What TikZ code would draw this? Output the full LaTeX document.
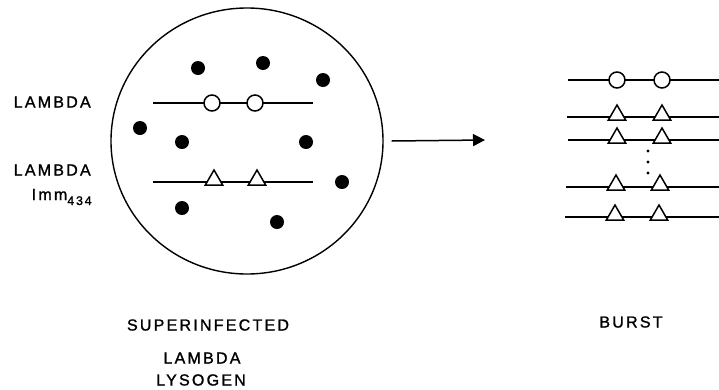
\documentclass[tikz,border=0pt]{standalone}
\usepackage{fontspec}
\setmainfont{Liberation Sans}[LetterSpace=14,FakeBold=1.3]
\usepackage{tikz}
\usetikzlibrary{arrows.meta,shapes.geometric,positioning}

\begin{document}
\begin{tikzpicture}[x=1pt,y=-1pt,line width=1.5pt,
  dot/.style={circle,fill=black,inner sep=0pt,minimum size=14pt},
  opencirc/.style={circle,draw,fill=white,inner sep=0pt,minimum size=16pt},
  tri/.style={regular polygon,regular polygon sides=3,draw,fill=white,inner sep=0pt,minimum size=20pt,yshift=2pt},
  lbl/.style={inner sep=0pt,font=\fontsize{16}{18}\selectfont}]
\useasboundingbox (0,0) rectangle (719,389);
\node[draw,ellipse,minimum width=272pt,minimum height=266pt,line width=1.4pt] (cell) at (247,141) {};
\foreach \x/\y [count=\i] in {198/68,263/63,323/80,140/128,182/142,306/142,342/182,182/208,277/222}
  \node[dot] (d\i) at (\x,\y) {};
\coordinate (la) at (153,103);
\coordinate (lb) at (313,103);
\draw (la) -- (lb);
\node[opencirc] (lc1) at (212,103) {};
\node[opencirc] (lc2) at (255,103) {};
\coordinate (ia) at (153,182);
\coordinate (ib) at (313,182);
\draw (ia) -- (ib);
\node[tri] (it1) at (214,182) {};
\node[tri] (it2) at (257,182) {};
\node[lbl,anchor=west] (lam) at (13,102) {LAMBDA};
\node[lbl,anchor=west] (lamimm) at (13,170) {LAMBDA};
\node[lbl,anchor=base west] (imm) at (31,200) {Imm\raisebox{-5pt}{\fontsize{12.5}{14}\selectfont 434}};
\coordinate (burst) at (485,140);
\draw[-{Triangle[length=12pt,width=12pt]}] ([xshift=8pt]cell.east) -- (burst);
\coordinate (r1a) at (568,80);
\coordinate (r1b) at (719,80);
\draw (r1a) -- (r1b);
\node[opencirc] (rc1) at (617,80) {};
\node[opencirc] (rc2) at (662,80) {};
\foreach \n/\y/\xa/\ta/\tb in {2/117/567/617/662,3/140/568/617/662,4/187/566/616/660,5/217/565/615/659}{
  \coordinate (r\n a) at (\xa,\y);
  \coordinate (r\n b) at (719,\y);
  \draw (r\n a) -- (r\n b);
  \node[tri] (rt\n a) at (\ta,\y) {};
  \node[tri] (rt\n b) at (\tb,\y) {};
}
\foreach \y [count=\i] in {151,162,173}
  \fill (648,\y) circle (1.6pt);
\node[lbl] (sup) at (208,325) {SUPERINFECTED};
\node[lbl] (lam2) at (202,358) {LAMBDA};
\node[lbl] (lys) at (201,380) {LYSOGEN};
\node[lbl] (bur) at (631,322) {BURST};
\end{tikzpicture}
\end{document}
